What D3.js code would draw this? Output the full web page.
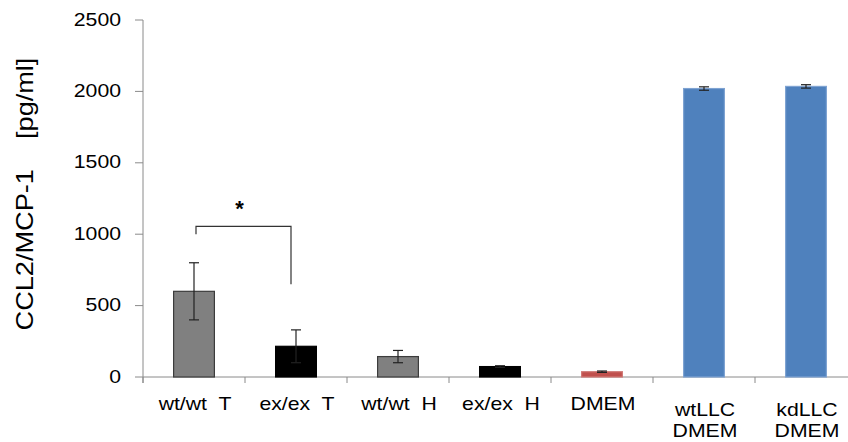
<!DOCTYPE html>
<html>
<head>
<meta charset="utf-8">
<script src="https://cdn.jsdelivr.net/npm/d3@7"></script>
<style>
  html, body { margin: 0; padding: 0; background: #fff; }
  svg { display: block; }
  text { font-family: "Liberation Sans", Arial, sans-serif; fill: #000; }
</style>
</head>
<body>
<svg id="chart" width="848" height="442"></svg>
<script>
// CCL2/MCP-1 concentration by sample group
const categories = ["wt/wt  T", "ex/ex  T", "wt/wt  H", "ex/ex  H", "DMEM", "wtLLC\nDMEM", "kdLLC\nDMEM"];
const values     = [600, 215, 143, 73, 37, 2020, 2035];
const errors     = [200, 115, 43, 6, 5, 12, 12];
const barGroups  = ["gray", "black", "gray", "black", "red", "blue", "blue"];
const yTicks     = [0, 500, 1000, 1500, 2000, 2500];
const yLabel     = "CCL2/MCP-1    [pg/ml]";

// significance bracket between the first two groups
const sigPair    = ["wt/wt  T", "ex/ex  T"];
const sigLevels  = [1000, 1055, 650];   // left end, bar height, right end
const sigMark    = "*";

const fills   = { gray: "#808080", black: "#000000", red: "#C0504D", blue: "#4F81BD" };
const strokes = { gray: "#3c3c3c", black: "#000000", red: "#d07a77", blue: "#7fa3d2" };

const svg = d3.select("#chart");
const axisColor = "#8a8a8a";
const stretch = 1.18; // horizontal widening of label glyphs

const x = d3.scaleBand().domain(categories).range([143, 857]).padding(0);
const y = d3.scaleLinear().domain([0, 2500]).range([377, 20]);
const barW = x.bandwidth() * 0.4;

// y axis
const yAxis = svg.append("g").attr("transform", "translate(143,0)");
yAxis.append("line").attr("x1", 0).attr("x2", 0).attr("y1", y(2500)).attr("y2", y(0) + 6)
  .attr("stroke", axisColor).attr("stroke-width", 1);
const yt = yAxis.selectAll("g.yt").data(yTicks).join("g").attr("class", "yt")
  .attr("transform", d => `translate(0,${y(d)})`);
yt.append("line").attr("x1", -8).attr("x2", 0).attr("stroke", axisColor);
yt.append("text")
  .attr("transform", `translate(-22,5.5) scale(${stretch},1)`)
  .attr("text-anchor", "end").attr("font-size", 18)
  .text(d => d);

// x axis
const xAxis = svg.append("g");
xAxis.append("line").attr("x1", 143).attr("x2", 857).attr("y1", y(0)).attr("y2", y(0))
  .attr("stroke", axisColor);
const bounds = categories.map(c => x(c)).concat([x(categories[categories.length - 1]) + x.bandwidth()]);
xAxis.selectAll("line.xt").data(bounds).join("line").attr("class", "xt")
  .attr("x1", d => d).attr("x2", d => d).attr("y1", y(0)).attr("y2", y(0) + 6)
  .attr("stroke", axisColor);

// category labels
const lab = xAxis.selectAll("g.lab").data(categories).join("g").attr("class", "lab")
  .attr("transform", d => {
    const lines = d.split("\n").length;
    return `translate(${x(d) + x.bandwidth() / 2 + 1},${lines > 1 ? 416 : 410})`;
  });
lab.append("text")
  .attr("transform", `scale(${stretch},1)`)
  .attr("text-anchor", "middle").attr("font-size", 18)
  .style("white-space", "pre")
  .each(function (d) {
    const t = d3.select(this);
    d.split("\n").forEach((s, i) => {
      t.append("tspan").attr("x", 0).attr("dy", i === 0 ? 0 : 21).text(s);
    });
  });

// bars
const data = categories.map((c, i) => ({ c, v: values[i], e: errors[i], g: barGroups[i] }));
svg.append("g").selectAll("rect").data(data).join("rect")
  .attr("x", d => x(d.c) + (x.bandwidth() - barW) / 2)
  .attr("width", barW)
  .attr("y", d => y(d.v))
  .attr("height", d => y(0) - y(d.v))
  .attr("fill", d => fills[d.g])
  .attr("stroke", d => strokes[d.g])
  .attr("stroke-width", 1.2);

// error bars
const eb = svg.append("g").attr("stroke", "#222").attr("stroke-width", 1.2);
data.forEach(d => {
  const cx = x(d.c) + x.bandwidth() / 2;
  eb.append("line").attr("x1", cx).attr("x2", cx).attr("y1", y(d.v + d.e)).attr("y2", y(d.v - d.e));
  [d.v + d.e, d.v - d.e].forEach(v => {
    eb.append("line").attr("x1", cx - 5).attr("x2", cx + 5).attr("y1", y(v)).attr("y2", y(v));
  });
});

// significance bracket
const bx1 = x(sigPair[0]) + x.bandwidth() / 2 + 2;
const bx2 = x(sigPair[1]) + x.bandwidth() / 2 - 5;
svg.append("path")
  .attr("d", `M${bx1},${y(sigLevels[0])}V${y(sigLevels[1])}H${bx2}V${y(sigLevels[2])}`)
  .attr("fill", "none").attr("stroke", "#333").attr("stroke-width", 1.2);
svg.append("text")
  .attr("x", (bx1 + bx2) / 2 - 4).attr("y", y(sigLevels[1]) - 10)
  .attr("text-anchor", "middle").attr("font-size", 22).attr("font-weight", "bold")
  .text(sigMark);

// y axis title
svg.append("text")
  .attr("transform", `translate(33,194) rotate(-90) scale(${stretch},1)`)
  .attr("text-anchor", "middle").attr("font-size", 23)
  .style("white-space", "pre")
  .text(yLabel);
</script>
</body>
</html>
